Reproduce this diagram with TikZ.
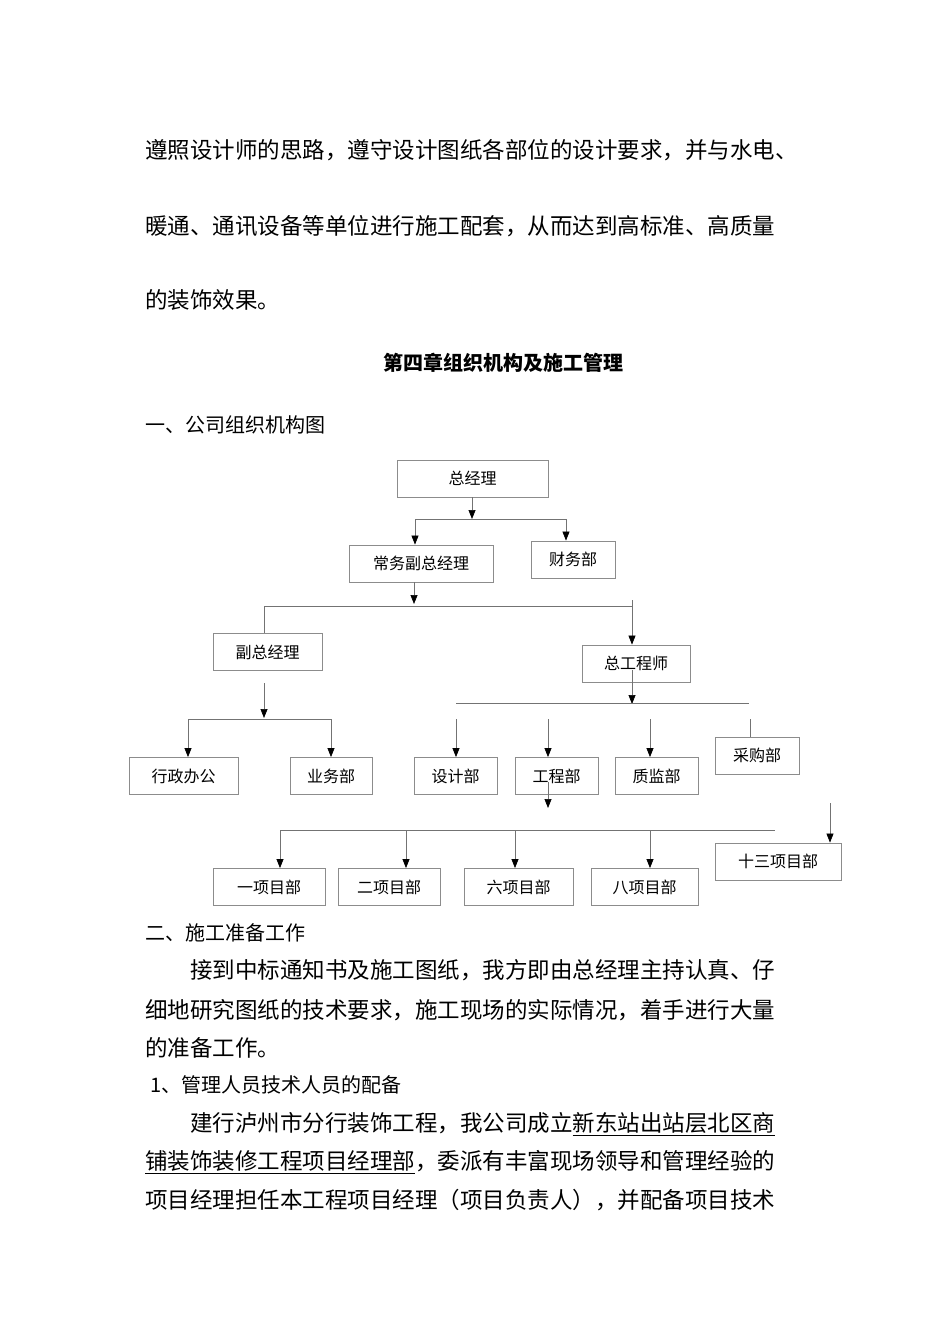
\documentclass[tikz,border=0pt]{standalone}
\usepackage{fontspec}
\setmainfont{Noto Sans CJK SC}
\newfontfamily\cjk{Noto Sans CJK SC}
\usetikzlibrary{arrows.meta}
\begin{document}
\begin{tikzpicture}[x=1pt,y=-1pt,
  bx/.style={draw=black!45,line width=0.8pt,minimum height=37pt,inner sep=0pt,font=\fontsize{16}{16}\selectfont},
  ln/.style={draw=black!55,line width=0.7pt},
  ar/.style={ln,-{Triangle[length=9pt,width=7pt,black]}},
  txt/.style={anchor=west,inner sep=0pt,font=\fontsize{22.5}{22.5}\selectfont}]
\useasboundingbox (0,0) rectangle (950,1344);
% body text
\node[txt] (t1) at (145,150) {遵照设计师的思路，遵守设计图纸各部位的设计要求，并与水电、};
\node[txt] (t2) at (145,226) {暖通、通讯设备等单位进行施工配套，从而达到高标准、高质量};
\node[txt] (t3) at (145,300) {的装饰效果。};
\node[inner sep=0pt,font=\fontsize{20}{20}\selectfont\bfseries] (title) at (503,363) {第四章组织机构及施工管理};
\node[txt,font=\fontsize{20}{20}\selectfont] (h1) at (145,425) {一、公司组织机构图};
\node[txt,font=\fontsize{20}{20}\selectfont] (h2) at (145,933) {二、施工准备工作};
\node[txt] (p1) at (190,970) {接到中标通知书及施工图纸，我方即由总经理主持认真、仔};
\node[txt] (p2) at (145,1010) {细地研究图纸的技术要求，施工现场的实际情况，着手进行大量};
\node[txt] (p3) at (145,1048) {的准备工作。};
\node[txt,font=\fontsize{20}{20}\selectfont] (h3) at (150,1085) {1、管理人员技术人员的配备};
\node[txt] (p4) at (190,1124) {建行泸州市分行装饰工程，我公司成立\underline{新东站出站层北区商}};
\node[txt] (p5) at (145,1162) {\underline{铺装饰装修工程项目经理部}，委派有丰富现场领导和管理经验的};
\node[txt] (p6) at (145,1200) {项目经理担任本工程项目经理（项目负责人），并配备项目技术};
% boxes
\node[bx,minimum width=151pt] (zjl) at (472.5,478.5) {总经理};
\node[bx,minimum width=144pt] (cw) at (421,563.5) {常务副总经理};
\node[bx,minimum width=84pt] (cwb) at (573,559.5) {财务部};
\node[bx,minimum width=109pt] (fz) at (267.5,652) {副总经理};
\node[bx,minimum width=108pt] (zgc) at (636,663.5) {总工程师};
\node[bx,minimum width=109pt] (xz) at (183.5,776) {行政办公};
\node[bx,minimum width=82pt] (yw) at (331,776) {业务部};
\node[bx,minimum width=83pt] (sj) at (455.5,776) {设计部};
\node[bx,minimum width=83pt] (gc) at (556.5,776) {工程部};
\node[bx,minimum width=83pt] (zj) at (656.5,776) {质监部};
\node[bx,minimum width=84pt] (cg) at (757,755.5) {采购部};
\node[bx,minimum width=126pt] (x13) at (778,861.5) {十三项目部};
\node[bx,minimum width=112pt] (x1) at (269,887) {一项目部};
\node[bx,minimum width=102pt] (x2) at (389,887) {二项目部};
\node[bx,minimum width=109pt] (x6) at (518.5,887) {六项目部};
\node[bx,minimum width=107pt] (x8) at (644.5,887) {八项目部};
% connectors
\coordinate (c1) at (472,519);
\draw[ar] (472,497) -- (c1);
\draw[ln] (415,519) -- (566,519);
\draw[ar] (415,519) -- (cw.north -| 415,0);
\draw[ar] (566,519) -- (cwb.north -| 566,0);
\draw[ar] (414,582) -- (414,604);
\draw[ln] (264,606) -- (632,606);
\draw[ln] (264,606) -- (fz.north -| 264,0);
\draw[ar] (632,600) -- (zgc.north -| 632,0);
\draw[ar] (632,670) -- (632,704);
\draw[ln] (456,703) -- (749,703);
\draw[ar] (264,683) -- (264,718);
\draw[ln] (188,719) -- (331,719);
\draw[ar] (188,719) -- (xz.north -| 188,0);
\draw[ar] (331,719) -- (yw.north -| 331,0);
\draw[ar] (456,719) -- (sj.north -| 456,0);
\draw[ar] (548,719) -- (gc.north -| 548,0);
\draw[ar] (650,719) -- (zj.north -| 650,0);
\draw[ln] (750,719) -- (cg.north -| 750,0);
\draw[ar] (548,782) -- (548,808);
\draw[ln] (280,830) -- (775,830);
\draw[ar] (830,803) -- (x13.north -| 830,0);
\draw[ar] (280,830) -- (x1.north -| 280,0);
\draw[ar] (406,830) -- (x2.north -| 406,0);
\draw[ar] (515,830) -- (x6.north -| 515,0);
\draw[ar] (650,830) -- (x8.north -| 650,0);
\end{tikzpicture}
\end{document}
